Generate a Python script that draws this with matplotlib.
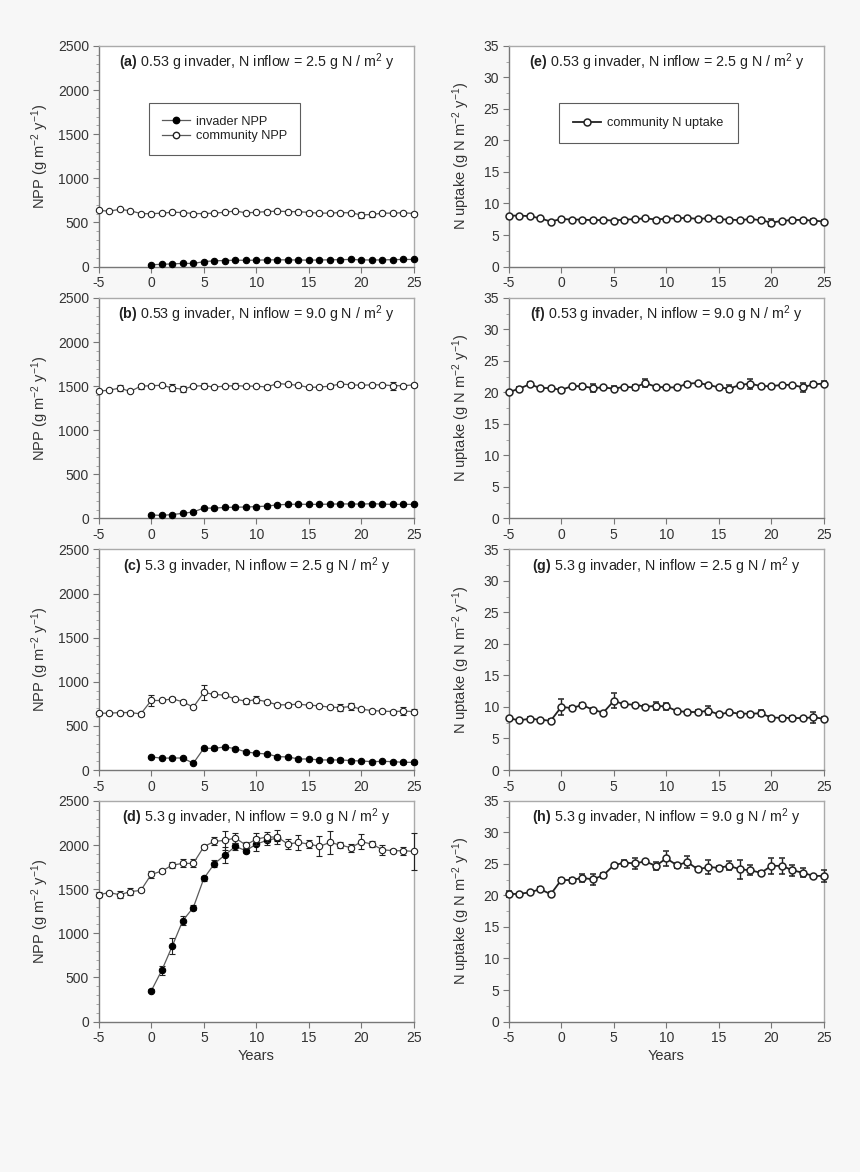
import numpy as np
import matplotlib
matplotlib.use("Agg")
import matplotlib.pyplot as plt
from matplotlib.ticker import MultipleLocator
from matplotlib.lines import Line2D

plt.rcParams['font.family'] = ['Liberation Sans', 'DejaVu Sans']
plt.rcParams['mathtext.fontset'] = 'custom'
plt.rcParams['mathtext.rm'] = 'Liberation Sans'
plt.rcParams['mathtext.bf'] = 'Liberation Sans:bold'
plt.rcParams['mathtext.it'] = 'Liberation Sans:italic'
plt.rcParams['axes.unicode_minus'] = False

years_all = list(range(-5, 26))
years_inv = list(range(0, 26))
years_inv_d = list(range(0, 13))

# ---- Panel (a)
comm_a = [635, 628, 648, 632, 600, 598, 605, 615, 612, 600, 600, 605, 615, 630, 608, 615,
          622, 628, 622, 622, 612, 605, 605, 612, 608, 585, 590, 605, 605, 610, 600]
comm_a_err = [10, 8, 8, 8, 8, 8, 8, 8, 8, 8, 8, 8, 8, 8, 8, 8,
              15, 8, 8, 8, 10, 8, 8, 8, 8, 30, 25, 8, 8, 12, 20]
inv_a = [20, 25, 30, 35, 35, 55, 65, 68, 72, 70, 72, 75, 76, 75, 74, 72,
         74, 76, 78, 80, 75, 74, 75, 78, 80, 80]
inv_a_err = [5] * 26

# ---- Panel (b)
comm_b = [1443, 1455, 1478, 1440, 1500, 1505, 1510, 1480, 1465, 1500, 1505, 1490, 1500, 1505, 1500, 1500,
          1490, 1530, 1520, 1510, 1485, 1490, 1500, 1525, 1515, 1510, 1515, 1515, 1505, 1505, 1515]
comm_b_err = [10, 8, 35, 8, 30, 8, 8, 40, 35, 8, 30, 8, 8, 30, 8, 8,
              20, 20, 8, 8, 15, 8, 20, 25, 25, 15, 10, 10, 45, 8, 20]
inv_b = [40, 35, 45, 58, 75, 118, 118, 125, 128, 130, 135, 140, 155, 160, 162, 160,
         160, 163, 165, 165, 163, 168, 163, 160, 160, 160]
inv_b_err = [8] * 22 + [12, 8, 12, 12]

# ---- Panel (c)
comm_c = [644, 644, 651, 651, 636, 788, 788, 807, 773, 712, 879, 856, 848, 803, 780, 799,
          773, 739, 739, 746, 735, 727, 712, 708, 720, 689, 674, 667, 663, 667, 663]
comm_c_err = [15, 8, 8, 8, 23, 66, 8, 15, 15, 8, 84, 15, 8, 15, 30, 45,
              10, 10, 20, 10, 10, 10, 10, 38, 45, 10, 10, 10, 10, 45, 30]
inv_c = [148, 134, 136, 136, 76, 246, 246, 261, 242, 205, 190, 182, 152, 148, 125, 125,
         114, 114, 114, 107, 102, 95, 98, 95, 87, 87]
inv_c_err = [15, 10, 10, 10, 10, 20, 15, 15, 15, 10, 10, 15, 10, 10, 10, 10,
             10, 10, 25, 15, 10, 10, 10, 10, 15, 15]

# ---- Panel (d)
comm_d = [1436, 1462, 1436, 1473, 1485, 1667, 1705, 1773, 1792, 1792, 1981, 2042, 2053, 2080, 2000, 2068,
          2091, 2091, 2011, 2030, 2011, 1985, 2030, 2000, 1970, 2038, 2011, 1947, 1936, 1936, 1928]
comm_d_err = [30, 10, 38, 38, 15, 38, 20, 38, 45, 45, 20, 45, 106, 57, 30, 64,
              57, 83, 57, 83, 45, 114, 133, 30, 45, 83, 30, 57, 15, 45, 208]
inv_d = [348, 580, 856, 1144, 1292, 1621, 1788, 1886, 1985, 1936, 2011, 2053, 2080]
inv_d_err = [15, 50, 87, 55, 30, 25, 40, 90, 40, 30, 80, 50, 30]

# ---- Panel (e)
nup_e = [8.05, 8.09, 7.98, 7.66, 7.13, 7.55, 7.45, 7.45, 7.34, 7.39, 7.29, 7.45, 7.5, 7.66, 7.45, 7.6,
         7.66, 7.71, 7.55, 7.66, 7.5, 7.45, 7.34, 7.55, 7.34, 6.97, 7.23, 7.39, 7.39, 7.29, 7.13]
nup_e_err = [0.15] * 16 + [0.3, 0.15, 0.15, 0.15, 0.2, 0.15, 0.15, 0.15, 0.3, 0.5, 0.15, 0.15, 0.15, 0.3, 0.2]

# ---- Panel (f)
nup_f = [20.04, 20.6, 21.3, 20.7, 20.7, 20.4, 21.0, 21.0, 20.7, 20.8, 20.6, 20.9, 20.8, 21.5, 20.9, 20.8,
         20.8, 21.4, 21.5, 21.2, 20.8, 20.6, 21.2, 21.4, 21.0, 21.0, 21.2, 21.2, 20.8, 21.3, 21.4]
nup_f_err = [0.15, 0.3, 0.3, 0.15, 0.15, 0.3, 0.2, 0.4, 0.6, 0.3, 0.4, 0.2, 0.4, 0.7, 0.15, 0.15,
             0.15, 0.2, 0.2, 0.15, 0.15, 0.6, 0.2, 0.8, 0.2, 0.15, 0.15, 0.2, 0.7, 0.3, 0.4]

# ---- Panel (g)
nup_g = [8.24, 7.87, 8.14, 7.98, 7.82, 10.0, 9.84, 10.3, 9.57, 9.1, 10.96, 10.43, 10.37, 10.05, 10.16, 10.1,
         9.36, 9.2, 9.2, 9.4, 8.83, 9.15, 8.94, 8.94, 8.99, 8.3, 8.3, 8.24, 8.24, 8.35, 8.14]
nup_g_err = [0.2, 0.15, 0.2, 0.15, 0.2, 1.3, 0.3, 0.3, 0.2, 0.15, 1.2, 0.2, 0.3, 0.3, 0.6, 0.5,
             0.2, 0.15, 0.3, 0.7, 0.15, 0.2, 0.3, 0.3, 0.5, 0.2, 0.3, 0.3, 0.15, 0.9, 0.3]

# ---- Panel (h)
nup_h = [20.2, 20.27, 20.48, 21.0, 20.2, 22.45, 22.45, 22.8, 22.55, 23.2, 24.8, 25.2, 25.1, 25.4, 24.7, 25.9,
         24.8, 25.3, 24.15, 24.5, 24.4, 24.7, 24.15, 24.0, 23.6, 24.7, 24.7, 24.0, 23.6, 23.1, 23.1]
nup_h_err = [0.5, 0.2, 0.2, 0.3, 0.3, 0.3, 0.4, 0.6, 0.9, 0.4, 0.2, 0.5, 0.9, 0.3, 0.6, 1.2,
             0.4, 1.0, 0.3, 1.1, 0.3, 0.7, 1.5, 0.8, 0.3, 1.3, 1.3, 0.9, 0.7, 0.2, 0.9]

left_titles = [r"$\bf{(a)}$ 0.53 g invader, N inflow = 2.5 g N / m$^2$ y",
               r"$\bf{(b)}$ 0.53 g invader, N inflow = 9.0 g N / m$^2$ y",
               r"$\bf{(c)}$ 5.3 g invader, N inflow = 2.5 g N / m$^2$ y",
               r"$\bf{(d)}$ 5.3 g invader, N inflow = 9.0 g N / m$^2$ y"]
right_titles = [r"$\bf{(e)}$ 0.53 g invader, N inflow = 2.5 g N / m$^2$ y",
                r"$\bf{(f)}$ 0.53 g invader, N inflow = 9.0 g N / m$^2$ y",
                r"$\bf{(g)}$ 5.3 g invader, N inflow = 2.5 g N / m$^2$ y",
                r"$\bf{(h)}$ 5.3 g invader, N inflow = 9.0 g N / m$^2$ y"]

comm_npp = [(comm_a, comm_a_err), (comm_b, comm_b_err), (comm_c, comm_c_err), (comm_d, comm_d_err)]
inv_npp = [(years_inv, inv_a, inv_a_err), (years_inv, inv_b, inv_b_err),
           (years_inv, inv_c, inv_c_err), (years_inv_d, inv_d, inv_d_err)]
nup = [(nup_e, nup_e_err), (nup_f, nup_f_err), (nup_g, nup_g_err), (nup_h, nup_h_err)]

BG = '#f7f7f7'
fig = plt.figure(figsize=(8.6, 11.72), dpi=100, facecolor=BG)

W = 0.3666
H = 0.1882
lefts = [0.1148, 0.5915]
bottoms = [0.7726, 0.5576, 0.3430, 0.1284]

LINE_GRAY = '#5a5a5a'
TXT = '#333333'


def style_axes(ax, ymax, ymajor, yminor):
    ax.set_facecolor('white')
    ax.set_xlim(-5, 25)
    ax.set_ylim(0, ymax)
    ax.xaxis.set_major_locator(MultipleLocator(5))
    ax.yaxis.set_major_locator(MultipleLocator(ymajor))
    ax.yaxis.set_minor_locator(MultipleLocator(yminor))
    for s in ['left', 'bottom']:
        ax.spines[s].set_color('#777777')
        ax.spines[s].set_linewidth(1.0)
    for s in ['top', 'right']:
        ax.spines[s].set_color('#aaaaaa')
        ax.spines[s].set_linewidth(1.0)
    ax.tick_params(which='major', direction='out', length=4, width=0.8, color='#777777',
                   labelsize=10, labelcolor=TXT, top=False, right=False, pad=3)
    ax.tick_params(which='minor', direction='out', length=2.5, width=0.6, color='#999999',
                   top=False, right=False)
    ax.tick_params(axis='x', which='minor', bottom=False)


def draw(ax, x, y, e, line_color, lw, mfc, mec, ms, mew, ew, z):
    cont = ax.errorbar(x, y, yerr=e, color=line_color, lw=lw, ecolor='#222222', elinewidth=ew,
                       capsize=2.5, capthick=ew, marker='o', ms=ms, mfc=mfc, mec=mec,
                       mew=mew, zorder=z)
    for art in cont.get_children():
        art.set_clip_on(False)
    cont.lines[0].set_clip_on(False)


for i in range(4):
    # Left NPP panels
    ax = fig.add_axes([lefts[0], bottoms[i], W, H])
    style_axes(ax, 2500, 500, 100)
    xi, yi, ei = inv_npp[i]
    draw(ax, xi, yi, ei, LINE_GRAY, 0.9, 'black', 'black', 4.6, 0.8, 0.8, 3)
    yc, ec = comm_npp[i]
    draw(ax, years_all, yc, ec, LINE_GRAY, 0.9, 'white', '#222222', 4.6, 0.8, 0.8, 4)
    ax.text(0.5, 0.925, left_titles[i], transform=ax.transAxes, ha='center', va='center',
            fontsize=10.3, color='#222222')
    ax.set_ylabel(r"NPP (g m$^{-2}$ y$^{-1}$)", fontsize=10.5, color=TXT, labelpad=5)
    if i == 0:
        handles = [Line2D([], [], color=LINE_GRAY, lw=0.9, marker='o', ms=4.6, mfc='black', mec='black'),
                   Line2D([], [], color=LINE_GRAY, lw=0.9, marker='o', ms=4.6, mfc='white', mec='#222222')]
        leg = ax.legend(handles, ['invader NPP', 'community NPP'], loc='upper left',
                        bbox_to_anchor=(0.16, 0.742), fontsize=9.2, frameon=True, fancybox=False,
                        edgecolor='#333333', handlelength=2.2, borderpad=1.0, labelspacing=0.2,
                        borderaxespad=0, handletextpad=0.5)
        leg.get_frame().set_linewidth(0.8)
        for t in leg.get_texts():
            t.set_color('#222222')
    if i == 3:
        ax.set_xlabel("Years", fontsize=10.5, color=TXT, labelpad=3)

    # Right N uptake panels
    ax2 = fig.add_axes([lefts[1], bottoms[i], W, H])
    style_axes(ax2, 35, 5, 2.5)
    yn, en = nup[i]
    draw(ax2, years_all, yn, en, '#222222', 1.3, 'white', '#222222', 5, 1.1, 1.0, 4)
    ax2.text(0.5, 0.925, right_titles[i], transform=ax2.transAxes, ha='center', va='center',
             fontsize=10.3, color='#222222')
    ax2.set_ylabel(r"N uptake (g N m$^{-2}$ y$^{-1}$)", fontsize=10.5, color=TXT, labelpad=8)
    if i == 0:
        handles = [Line2D([], [], color='#222222', lw=1.3, marker='o', ms=5, mfc='white',
                          mec='#222222', mew=1.1)]
        leg = ax2.legend(handles, ['community N uptake'], loc='upper left',
                         bbox_to_anchor=(0.159, 0.74), fontsize=9.2, frameon=True, fancybox=False,
                         edgecolor='#333333', handlelength=2.2, borderpad=1.1,
                         borderaxespad=0, handletextpad=0.5)
        leg.get_frame().set_linewidth(0.8)
        for t in leg.get_texts():
            t.set_color('#222222')
    if i == 3:
        ax2.set_xlabel("Years", fontsize=10.5, color=TXT, labelpad=3)

fig.savefig("out.png", dpi=100, facecolor=BG)
